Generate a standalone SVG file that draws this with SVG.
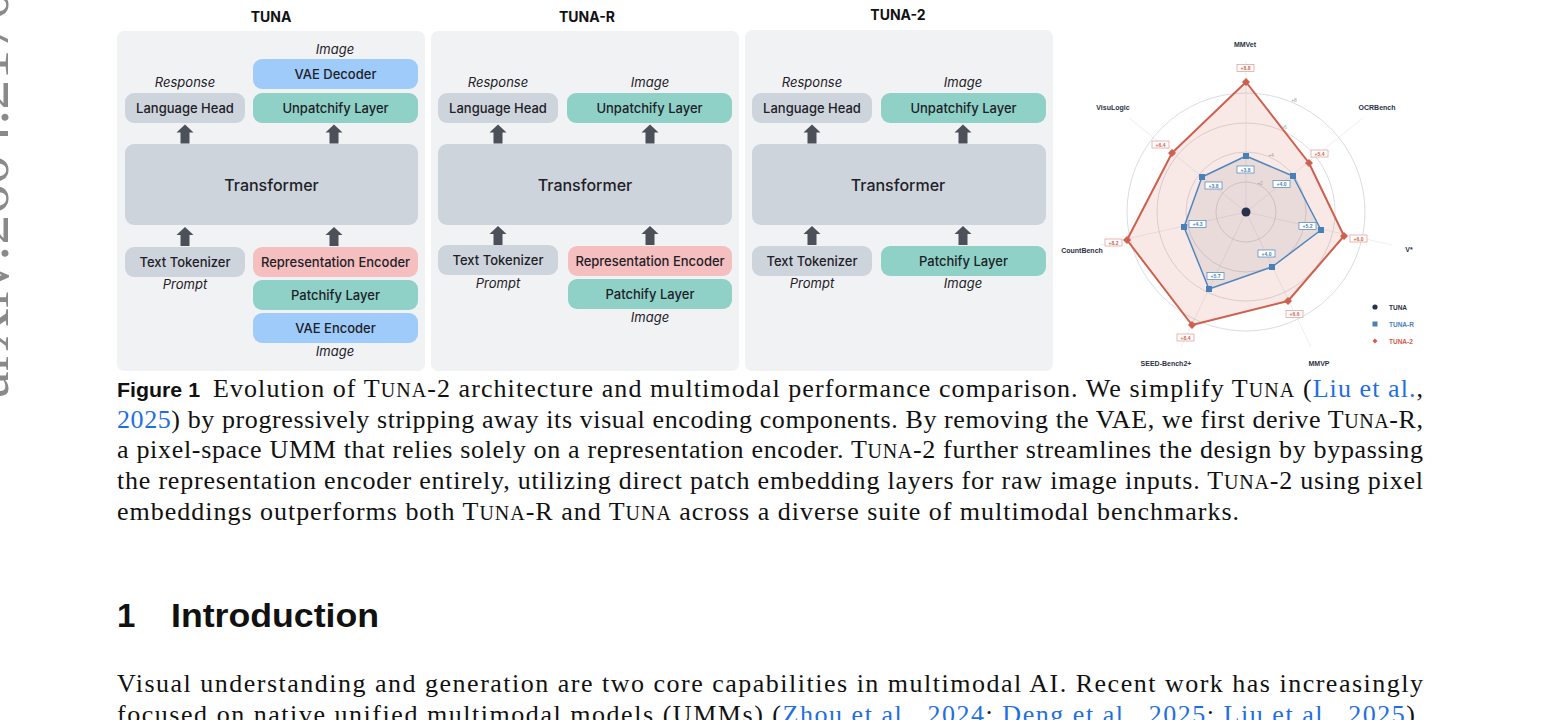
<svg xmlns="http://www.w3.org/2000/svg" width="1560" height="720" viewBox="0 0 1560 720">
<style>
.panel{fill:#f1f2f4}
.title{font-family:Inter,"Liberation Sans",sans-serif;font-weight:700;font-size:14px;fill:#111;text-anchor:middle}
.lbl{font-family:Inter,"Liberation Sans",sans-serif;font-weight:500;font-size:13px;fill:#1d2127;text-anchor:middle}
.big{font-size:16px}
.it{font-family:Inter,"Liberation Sans",sans-serif;font-style:italic;font-size:13px;fill:#1d2127;text-anchor:middle}
.gray{fill:#ced4dc}.teal{fill:#8fd1c7}.blue{fill:#9fcbfa}.pink{fill:#f5bfc0}
.arrow{fill:#4b5059}
.serif{font-family:"Liberation Serif","Times New Roman",serif;font-size:26px;fill:#111}
.link{fill:#1f6fe0}
.ax{font-family:"Liberation Sans",sans-serif;font-weight:700;font-size:7px;fill:#2a3344;text-anchor:middle}
.tick{font-family:"Liberation Sans",sans-serif;font-size:5px;fill:#9aa3af;text-anchor:middle}
.vr{font-family:"Liberation Sans",sans-serif;font-weight:700;font-size:5px;fill:#cf5f4e;text-anchor:middle}
.vb{font-family:"Liberation Sans",sans-serif;font-weight:700;font-size:5px;fill:#4b82ba;text-anchor:middle}
.br{fill:#fff;stroke:#e0998f;stroke-width:0.7}
.bb{fill:#fff;stroke:#4b82ba;stroke-width:0.7}
.ring{fill:none;stroke:#c9ced6;stroke-width:0.7}
.spoke{stroke:#dfe3e8;stroke-width:0.6}
</style>
<defs>
<path id="arr" d="M0,0 L8.5,8 L4.5,8 L4.5,19 L-4.5,19 L-4.5,8 L-8.5,8 Z"/>
</defs>
<rect width="1560" height="720" fill="#fff"/>

<!-- arXiv side stamp -->
<text transform="translate(8,398) rotate(-90)" font-family="Liberation Serif,serif" font-size="60" fill="#8a8a8a">arXiv:2604.21706v1</text>

<!-- Panel titles -->
<text class="title" x="271" y="22">TUNA</text>
<text class="title" x="587" y="22">TUNA-R</text>
<text class="title" x="898" y="20">TUNA-2</text>

<!-- Panel backgrounds -->
<rect class="panel" x="117" y="31" width="308" height="340" rx="7"/>
<rect class="panel" x="431" y="31" width="308" height="340" rx="7"/>
<rect class="panel" x="745" y="30" width="308" height="341" rx="7"/>

<!-- ===== Panel 1: TUNA ===== -->
<g id="tuna-image-out"><text class="it" x="335" y="54">Image</text></g>
<g id="tuna-vae-decoder"><rect class="blue" x="253" y="59" width="165" height="30" rx="9"/><text class="lbl" x="335.5" y="79">VAE Decoder</text></g>
<g id="tuna-response"><text class="it" x="185" y="87">Response</text></g>
<g id="tuna-language-head"><rect class="gray" x="125" y="93" width="120" height="30" rx="9"/><text class="lbl" x="185" y="113">Language Head</text></g>
<g id="tuna-unpatchify"><rect class="teal" x="253" y="93" width="165" height="30" rx="9"/><text class="lbl" x="335.5" y="113">Unpatchify Layer</text></g>
<g id="tuna-transformer"><rect class="gray" x="125" y="144" width="293" height="81" rx="9"/><text class="lbl big" x="271.5" y="191">Transformer</text></g>
<g id="tuna-text-tokenizer"><rect class="gray" x="125" y="247" width="120" height="30" rx="9"/><text class="lbl" x="185" y="267">Text Tokenizer</text></g>
<g id="tuna-prompt"><text class="it" x="185" y="289">Prompt</text></g>
<g id="tuna-rep-encoder"><rect class="pink" x="253" y="247" width="165" height="30" rx="9"/><text class="lbl" x="335.5" y="267">Representation Encoder</text></g>
<g id="tuna-patchify"><rect class="teal" x="253" y="280" width="165" height="30" rx="9"/><text class="lbl" x="335.5" y="300">Patchify Layer</text></g>
<g id="tuna-vae-encoder"><rect class="blue" x="253" y="313" width="165" height="30" rx="9"/><text class="lbl" x="335.5" y="333">VAE Encoder</text></g>
<g id="tuna-image-in"><text class="it" x="335" y="356">Image</text></g>

<!-- ===== Panel 2: TUNA-R ===== -->
<g id="tunar-response"><text class="it" x="498" y="87">Response</text></g>
<g id="tunar-image-out"><text class="it" x="650" y="87">Image</text></g>
<g id="tunar-language-head"><rect class="gray" x="438" y="93" width="120" height="30" rx="9"/><text class="lbl" x="498" y="113">Language Head</text></g>
<g id="tunar-unpatchify"><rect class="teal" x="567" y="93" width="165" height="30" rx="9"/><text class="lbl" x="649.5" y="113">Unpatchify Layer</text></g>
<g id="tunar-transformer"><rect class="gray" x="438" y="144" width="294" height="81" rx="9"/><text class="lbl big" x="585" y="191">Transformer</text></g>
<g id="tunar-text-tokenizer"><rect class="gray" x="438" y="245" width="120" height="30" rx="9"/><text class="lbl" x="498" y="265">Text Tokenizer</text></g>
<g id="tunar-prompt"><text class="it" x="498" y="288">Prompt</text></g>
<g id="tunar-rep-encoder"><rect class="pink" x="568" y="246" width="164" height="30" rx="9"/><text class="lbl" x="650" y="266">Representation Encoder</text></g>
<g id="tunar-patchify"><rect class="teal" x="568" y="279" width="164" height="30" rx="9"/><text class="lbl" x="650" y="299">Patchify Layer</text></g>
<g id="tunar-image-in"><text class="it" x="650" y="322">Image</text></g>

<!-- ===== Panel 3: TUNA-2 ===== -->
<g id="tuna2-response"><text class="it" x="812" y="87">Response</text></g>
<g id="tuna2-image-out"><text class="it" x="963" y="87">Image</text></g>
<g id="tuna2-language-head"><rect class="gray" x="752" y="93" width="120" height="30" rx="9"/><text class="lbl" x="812" y="113">Language Head</text></g>
<g id="tuna2-unpatchify"><rect class="teal" x="881" y="93" width="165" height="30" rx="9"/><text class="lbl" x="963.5" y="113">Unpatchify Layer</text></g>
<g id="tuna2-transformer"><rect class="gray" x="752" y="144" width="294" height="81" rx="9"/><text class="lbl big" x="898" y="191">Transformer</text></g>
<g id="tuna2-text-tokenizer"><rect class="gray" x="752" y="246" width="120" height="30" rx="9"/><text class="lbl" x="812" y="266">Text Tokenizer</text></g>
<g id="tuna2-prompt"><text class="it" x="812" y="288">Prompt</text></g>
<g id="tuna2-patchify"><rect class="teal" x="881" y="246" width="165" height="30" rx="9"/><text class="lbl" x="963.5" y="266">Patchify Layer</text></g>
<g id="tuna2-image-in"><text class="it" x="963" y="288">Image</text></g>

<!-- Connectors -->
<g id="connectors" class="arrow">
<use href="#arr" x="185" y="124.5"/>
<use href="#arr" x="334" y="124.5"/>
<use href="#arr" x="185" y="227"/>
<use href="#arr" x="334" y="227"/>
<use href="#arr" x="498" y="124.5"/>
<use href="#arr" x="650" y="124.5"/>
<use href="#arr" x="498" y="226"/>
<use href="#arr" x="650" y="226"/>
<use href="#arr" x="812" y="124.5"/>
<use href="#arr" x="963" y="124.5"/>
<use href="#arr" x="812" y="226"/>
<use href="#arr" x="963" y="226"/>
</g>

<!-- ===== Radar chart ===== -->
<g id="radar">
<g class="spoke">
<line x1="1246" y1="212" x2="1246" y2="62"/>
<line x1="1246" y1="212" x2="1363" y2="118"/>
<line x1="1246" y1="212" x2="1392" y2="245"/>
<line x1="1246" y1="212" x2="1311" y2="347"/>
<line x1="1246" y1="212" x2="1181" y2="347"/>
<line x1="1246" y1="212" x2="1100" y2="245"/>
<line x1="1246" y1="212" x2="1129" y2="118"/>
</g>
<circle class="ring" cx="1246" cy="212" r="30"/>
<circle class="ring" cx="1246" cy="212" r="60"/>
<circle class="ring" cx="1246" cy="212" r="89"/>
<circle class="ring" cx="1246" cy="212" r="119" stroke="#c3ccda"/>
<polygon points="1246,82 1309,163 1344,236 1288,301 1192,325 1127,240 1172,153" fill="#d86a58" fill-opacity="0.15" stroke="#cf5f4e" stroke-width="2" stroke-linejoin="round"/>
<polygon points="1246,156 1293,176 1321,230 1272,267 1209,289 1184,227 1202,177" fill="#6a6680" fill-opacity="0.1" stroke="#4f86bd" stroke-width="1.5" stroke-linejoin="round"/>
<text class="tick" x="1294" y="102">+8</text>
<text class="tick" x="1284" y="129">+6</text>
<text class="tick" x="1271" y="157">+4</text>
<text class="tick" x="1260" y="185">+2</text>
<circle cx="1246" cy="212" r="4.5" fill="#27314a"/>
<g fill="#cf5f4e">
<path d="M1246,78 l4,4 -4,4 -4,-4z"/>
<path d="M1309,159 l4,4 -4,4 -4,-4z"/>
<path d="M1344,232 l4,4 -4,4 -4,-4z"/>
<path d="M1288,297 l4,4 -4,4 -4,-4z"/>
<path d="M1192,321 l4,4 -4,4 -4,-4z"/>
<path d="M1127,236 l4,4 -4,4 -4,-4z"/>
<path d="M1172,149 l4,4 -4,4 -4,-4z"/>
</g>
<g fill="#4a80b8">
<rect x="1243" y="153" width="6" height="6"/>
<rect x="1290" y="173" width="6" height="6"/>
<rect x="1318" y="227" width="6" height="6"/>
<rect x="1269" y="264" width="6" height="6"/>
<rect x="1206" y="286" width="6" height="6"/>
<rect x="1181" y="224" width="6" height="6"/>
<rect x="1199" y="174" width="6" height="6"/>
</g>
<!-- value boxes red -->
<rect class="br" x="1237" y="64.5" width="17" height="7"/><text class="vr" x="1245.5" y="70">+8.8</text>
<rect class="br" x="1311" y="150" width="17" height="7"/><text class="vr" x="1319.5" y="155.5">+5.4</text>
<rect class="br" x="1350" y="235" width="17" height="7"/><text class="vr" x="1358.5" y="240.5">+6.0</text>
<rect class="br" x="1286" y="310.5" width="17" height="7"/><text class="vr" x="1294.5" y="316">+6.6</text>
<rect class="br" x="1177" y="334" width="17" height="7"/><text class="vr" x="1185.5" y="339.5">+8.4</text>
<rect class="br" x="1105" y="239" width="17" height="7"/><text class="vr" x="1113.5" y="244.5">+8.2</text>
<rect class="br" x="1152" y="141" width="17" height="7"/><text class="vr" x="1160.5" y="146.5">+6.4</text>
<!-- value boxes blue -->
<rect class="bb" x="1237" y="166" width="17" height="7"/><text class="vb" x="1245.5" y="171.5">+3.8</text>
<rect class="bb" x="1273" y="180.5" width="17" height="7"/><text class="vb" x="1281.5" y="186">+4.0</text>
<rect class="bb" x="1299" y="222.5" width="17" height="7"/><text class="vb" x="1307.5" y="228">+5.2</text>
<rect class="bb" x="1258" y="250" width="17" height="7"/><text class="vb" x="1266.5" y="255.5">+4.0</text>
<rect class="bb" x="1207" y="272.5" width="17" height="7"/><text class="vb" x="1215.5" y="278">+5.7</text>
<rect class="bb" x="1189" y="220.5" width="17" height="7"/><text class="vb" x="1197.5" y="226">+4.3</text>
<rect class="bb" x="1205" y="182" width="17" height="7"/><text class="vb" x="1213.5" y="187.5">+3.8</text>
<!-- axis labels -->
<text class="ax" x="1245" y="47">MMVet</text>
<text class="ax" x="1377" y="110">OCRBench</text>
<text class="ax" x="1409" y="252">V*</text>
<text class="ax" x="1319" y="366">MMVP</text>
<text class="ax" x="1166" y="366">SEED-Bench2+</text>
<text class="ax" x="1082" y="253">CountBench</text>
<text class="ax" x="1113" y="110">VisuLogic</text>
<!-- legend -->
<circle cx="1375" cy="307" r="2.6" fill="#27314a"/>
<text x="1389" y="309.5" font-family="Liberation Sans,sans-serif" font-weight="700" font-size="6.5" fill="#2a3344">TUNA</text>
<rect x="1372.5" y="321.5" width="5" height="5" fill="#4a80b8"/>
<text x="1389" y="326.5" font-family="Liberation Sans,sans-serif" font-weight="700" font-size="6.5" fill="#4b82ba">TUNA-R</text>
<path d="M1375,338.5 l2.5,2.5 -2.5,2.5 -2.5,-2.5z" fill="#cf5f4e"/>
<text x="1389" y="343.5" font-family="Liberation Sans,sans-serif" font-weight="700" font-size="6.5" fill="#cf5f4e">TUNA-2</text>
</g>

<!-- Caption -->
<text x="117" y="397" font-family="Liberation Sans,Arial,sans-serif" font-weight="700" font-size="21" fill="#111" textLength="83" lengthAdjust="spacingAndGlyphs">Figure 1</text>
<text class="serif" x="213" y="397" textLength="1210" lengthAdjust="spacing">Evolution of T<tspan font-size="20">UNA</tspan>-2 architecture and multimodal performance comparison. We simplify T<tspan font-size="20">UNA</tspan> (<tspan class="link">Liu et al.</tspan>,</text>
<text class="serif" x="117" y="428" textLength="1306" lengthAdjust="spacing"><tspan class="link">2025</tspan>) by progressively stripping away its visual encoding components. By removing the VAE, we first derive T<tspan font-size="20">UNA</tspan>-R,</text>
<text class="serif" x="117" y="458" textLength="1306" lengthAdjust="spacing">a pixel-space UMM that relies solely on a representation encoder. T<tspan font-size="20">UNA</tspan>-2 further streamlines the design by bypassing</text>
<text class="serif" x="117" y="489" textLength="1306" lengthAdjust="spacing">the representation encoder entirely, utilizing direct patch embedding layers for raw image inputs. T<tspan font-size="20">UNA</tspan>-2 using pixel</text>
<text class="serif" x="117" y="520" textLength="1122" lengthAdjust="spacing">embeddings outperforms both T<tspan font-size="20">UNA</tspan>-R and T<tspan font-size="20">UNA</tspan> across a diverse suite of multimodal benchmarks.</text>

<!-- Section heading -->
<text x="117" y="627" font-family="Liberation Sans,Arial,sans-serif" font-weight="700" font-size="33" fill="#111">1</text>
<text x="171" y="627" font-family="Liberation Sans,Arial,sans-serif" font-weight="700" font-size="33" fill="#111" textLength="208" lengthAdjust="spacingAndGlyphs">Introduction</text>

<!-- Body -->
<text class="serif" x="117" y="692" textLength="1306" lengthAdjust="spacing">Visual understanding and generation are two core capabilities in multimodal AI. Recent work has increasingly</text>
<text class="serif" x="117" y="723" textLength="1306" lengthAdjust="spacing">focused on native unified multimodal models (UMMs) (<tspan class="link">Zhou et al., 2024</tspan>; <tspan class="link">Deng et al., 2025</tspan>; <tspan class="link">Liu et al., 2025</tspan>).</text>
</svg>
